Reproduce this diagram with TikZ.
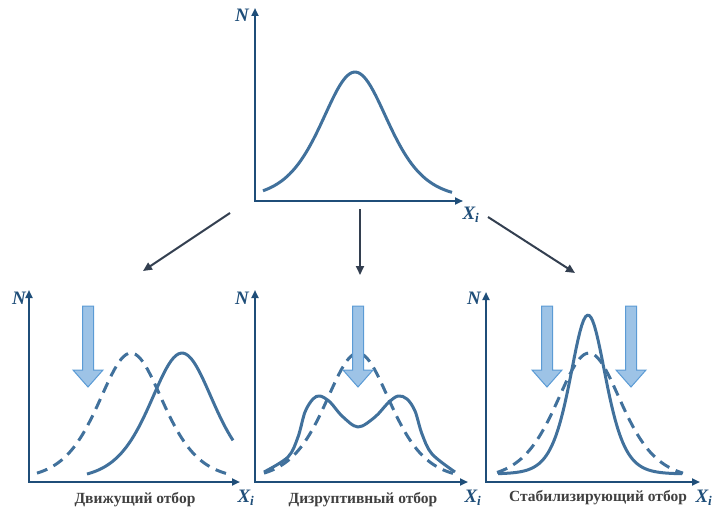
\documentclass[tikz,border=0pt]{standalone}
\usepackage{fontspec}
\setmainfont{Liberation Serif}
\usetikzlibrary{arrows.meta}

\definecolor{axisblue}{HTML}{1F4E79}
\definecolor{curveblue}{HTML}{41719C}
\definecolor{fatfill}{HTML}{9DC3E6}
\definecolor{fatedge}{HTML}{5B9BD5}
\definecolor{linkgray}{HTML}{333F50}
\definecolor{labelgray}{HTML}{404040}

\tikzset{
  axis/.style={axisblue, line width=2pt, {Triangle[length=8pt,width=7pt]}-{Triangle[length=8pt,width=7pt]}},
  curve/.style={curveblue, line width=3pt, line join=round},
  oldcurve/.style={curve, dash pattern=on 11pt off 7pt},
  link/.style={linkgray, line width=2pt, -{Triangle[length=9pt,width=8pt]}},
  fatbody/.style={fill=fatfill, draw=fatedge, line width=1pt},
  fatarrow/.pic={\draw[fatbody] (-5.5,0) -- (5.5,0) -- (5.5,64) -- (15,64) -- (0,81) -- (-15,64) -- (-5.5,64) -- cycle;},
  axislabel/.style={axisblue, font=\fontsize{19}{19}\selectfont\bfseries\itshape, inner sep=0pt},
  caption/.style={labelgray, font=\fontsize{15.5}{16}\selectfont\bfseries, inner sep=0pt},
  declare function={bell(\u,\m,\w)=1/(cosh((\u-\m)/\w))^2;}
}

\begin{document}
\begin{tikzpicture}[x=1pt,y=-1pt]
\useasboundingbox (0,0) rectangle (715,516);

% top: starting population
\draw[axis] (255,8) |- (463,201);
\node[axislabel] (n-top) at (242,15) {N};
\node[axislabel] (x-top) at (471,215) {X\textsubscript{i}};
\draw[curve] plot[domain=263:452, samples=80] (\x,{199-127*bell(\x,355,45)});

% connectors
\coordinate (from-left) at (230,213);
\coordinate (to-left) at (143,271);
\coordinate (from-mid) at (360,209);
\coordinate (to-mid) at (360,275);
\coordinate (from-right) at (488,217);
\coordinate (to-right) at (575,273);
\draw[link] (from-left) -- (to-left);
\draw[link] (from-mid) -- (to-mid);
\draw[link] (from-right) -- (to-right);

% driving selection
\draw[axis] (29,290) |- (240,482);
\node[axislabel] (n-left) at (19,298) {N};
\node[axislabel] (x-left) at (246,498) {X\textsubscript{i}};
\draw[oldcurve] plot[domain=37:227, samples=80] (\x,{480-127*bell(\x,131,44)});
\draw[curve] plot[domain=87:233, samples=60] (\x,{480-127*bell(\x,182,43)});
\pic at (88,306) {fatarrow};
\node[caption] (cap-left) at (135,500) {Движущий отбор};

% disruptive selection
\draw[axis] (255,290) |- (468,482);
\node[axislabel] (n-mid) at (242,298) {N};
\node[axislabel] (x-mid) at (473,498) {X\textsubscript{i}};
\draw[oldcurve] plot[domain=264:453, samples=80] (\x,{480-127*bell(\x,358,44)});
\draw[curve] plot[smooth, tension=0.55] coordinates {(264,472) (288,457) (298,437) (305,412)
  (313,399) (320,396) (330,402) (342,416) (358,427) (375,417) (388,403) (398,396)
  (407,399) (415,411) (422,434) (432,454) (455,472)};
\pic at (358,306) {fatarrow};
\node[caption] (cap-mid) at (363,500) {Дизруптивный отбор};

% stabilizing selection
\draw[axis] (486,292) |- (700,482);
\node[axislabel] (n-right) at (474,298) {N};
\node[axislabel] (x-right) at (704,498) {X\textsubscript{i}};
\draw[oldcurve] plot[domain=497:683, samples=80] (\x,{480-127*bell(\x,589,44)});
\draw[curve] plot[domain=498:682, samples=100] (\x,{474-159*bell(\x,588,24)});
\pic at (547,306) {fatarrow};
\pic at (631,306) {fatarrow};
\node[caption] (cap-right) at (598,498) {Стабилизирующий отбор};
\end{tikzpicture}
\end{document}
